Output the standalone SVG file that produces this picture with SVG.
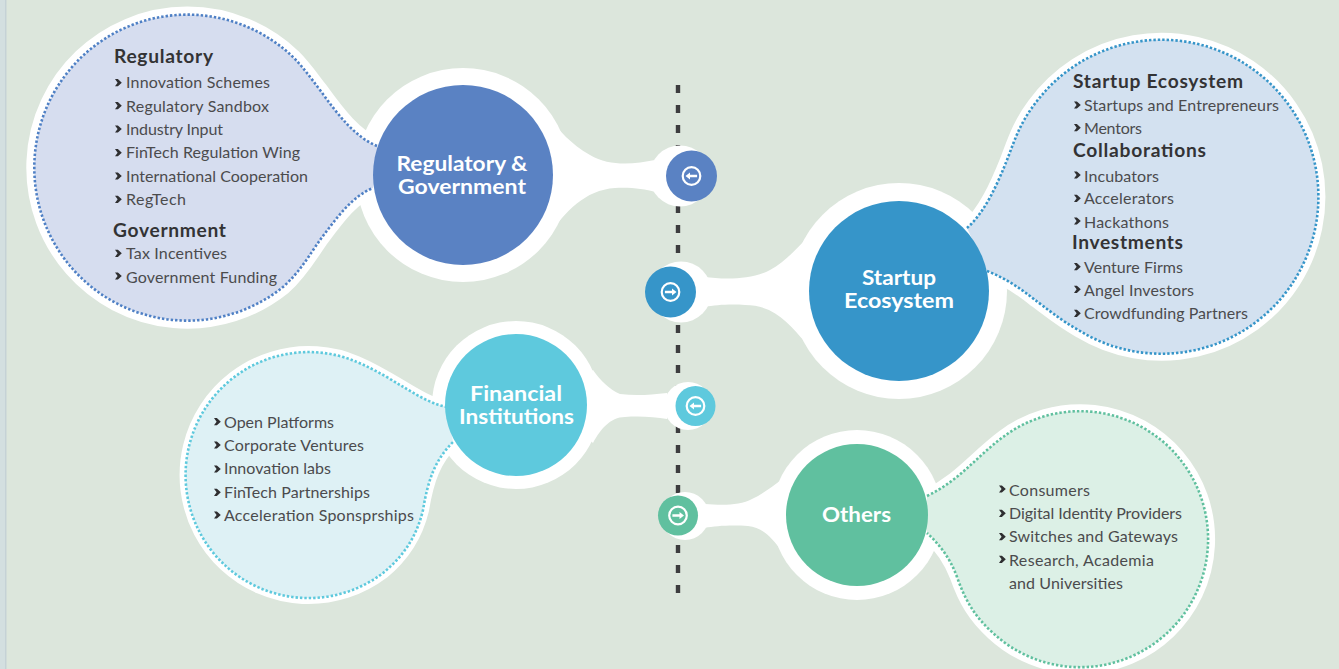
<svg xmlns="http://www.w3.org/2000/svg" xmlns:xlink="http://www.w3.org/1999/xlink" width="1339" height="669" viewBox="0 0 1339 669">
<style>
text{font-family:"Lato","Liberation Sans",sans-serif}
.i{font-size:16px;fill:#4b4b4d}
.h{font-size:19.2px;font-weight:700;fill:#333335}
.n{font-size:21px;font-weight:700;fill:#fff}
.halo{fill:#fff}
.blobw{stroke:#fff;stroke-linejoin:round;paint-order:stroke fill}
.dots{fill:none;stroke-width:2.6;stroke-dasharray:2.4 2}
.ring{fill:none;stroke:#fff;stroke-width:2.2}
.arr{fill:#fff}
.chev{fill:#2f2f31}
</style>
<defs>
<path id="c" class="chev" d="M0,-3.6H2.9L6.8,0L2.9,3.6H0L2.6,0Z"/>
<g id="al"><circle class="ring" r="8.8"/><path class="arr" d="M-6,0L-1.5,-3.4V-1.3H5.6V1.3H-1.5V3.4Z"/></g>
<g id="ar"><circle class="ring" r="8.8"/><path class="arr" d="M6,0L1.5,-3.4V-1.3H-5.6V1.3H1.5V3.4Z"/></g>
</defs>
<rect width="1339" height="669" fill="#dce6dc"/>
<rect width="5" height="669" fill="#d3dfe0"/>
<rect x="5" width="1.5" height="669" fill="#c5d2d6"/>
<g id="connectors">
<line x1="678" y1="85" x2="678" y2="594" stroke="#3c3c3e" stroke-width="4.4" stroke-dasharray="8 12"/>
<g fill="#fff">
<path d="M655,160C635,164 610,167 590,155C570,144 560,130 548,118L500,175L550,234C565,212 585,190 615,188C630,187 645,189 655,192Z"/>
<circle cx="680" cy="176" r="30.500"/>
<path d="M705,277C720,279 750,281 770,270C785,262 795,250 805,240L850,291L805,342C790,325 775,305 745,305C730,304 715,305 705,307Z"/>
<circle cx="681" cy="292" r="30.500"/>
<path d="M667,393C650,395 635,396 620,394C610,390 600,380 593,370L550,405L593,443C600,430 610,417 625,417C640,416 655,417 667,419Z"/>
<circle cx="688" cy="406" r="24"/>
<path d="M705,504C720,505 740,506 752,499C762,494 772,487 781,480L820,515L781,550C772,538 762,527 748,526C730,525 715,526 705,528Z"/>
<circle cx="685" cy="516" r="24"/>
</g>
</g>
<g id="node-regulatory">
<circle class="halo" cx="463" cy="175" r="107"/>
<path class="blobw" stroke-width="16" fill="#d6ddef" d="M377,146C355,137 338,115 320,90C310,77 303,67 293,57A153,153 0 1 0 283,287C300,272 310,254 320,240C335,220 352,196 373,188Z"/>
<path class="dots" stroke="#4f80c5" d="M377,146C355,137 338,115 320,90C310,77 303,67 293,57A153,153 0 1 0 283,287C300,272 310,254 320,240C335,220 352,196 373,188"/>
<circle cx="463" cy="175" r="90" fill="#5a82c3"/>
<text class="n" x="462" y="171" text-anchor="middle" textLength="131" lengthAdjust="spacingAndGlyphs">Regulatory &amp;</text>
<text class="n" x="462" y="194" text-anchor="middle" textLength="128" lengthAdjust="spacingAndGlyphs">Government</text>
<circle cx="691.500" cy="176" r="25.500" fill="#5a82c3"/>
<use href="#al" x="691.500" y="176"/>
<text class="h" x="114" y="63" textLength="99">Regulatory</text>
<use href="#c" x="115" y="82.700"/><text class="i" x="126" y="88" textLength="144">Innovation Schemes</text>
<use href="#c" x="115" y="105.700"/><text class="i" x="126" y="112" textLength="143">Regulatory Sandbox</text>
<use href="#c" x="115" y="129"/><text class="i" x="126" y="135" textLength="97">Industry Input</text>
<use href="#c" x="115" y="152.700"/><text class="i" x="126" y="158" textLength="174">FinTech Regulation Wing</text>
<use href="#c" x="115" y="176"/><text class="i" x="126" y="182" textLength="182">International Cooperation</text>
<use href="#c" x="115" y="199.300"/><text class="i" x="126" y="205" textLength="60">RegTech</text>
<text class="h" x="113" y="237" textLength="113">Government</text>
<use href="#c" x="115" y="253.300"/><text class="i" x="126" y="259" textLength="101">Tax Incentives</text>
<use href="#c" x="115" y="276"/><text class="i" x="126" y="282.500" textLength="151">Government Funding</text>
</g>
<g id="node-startup">
<circle class="halo" cx="899" cy="291" r="108"/>
<path class="blobw" stroke-width="14" fill="#d3e1f0" d="M967,228C985,212 997,185 1007,160C1014,142 1019,125 1034,105A157,157 0 1 1 1080,331C1060,320 1045,307 1035,300C1020,288 1005,278 987,271Z"/>
<path class="dots" stroke="#3695c9" d="M967,228C985,212 997,185 1007,160C1014,142 1019,125 1034,105A157,157 0 1 1 1080,331C1060,320 1045,307 1035,300C1020,288 1005,278 987,271"/>
<circle cx="899" cy="291" r="90" fill="#3695c9"/>
<text class="n" x="899" y="285" text-anchor="middle" textLength="74" lengthAdjust="spacingAndGlyphs">Startup</text>
<text class="n" x="899" y="308" text-anchor="middle" textLength="110" lengthAdjust="spacingAndGlyphs">Ecosystem</text>
<circle cx="670.500" cy="292" r="25.500" fill="#3695c9"/>
<use href="#ar" x="670.500" y="292"/>
<text class="h" x="1073" y="87.500" textLength="170">Startup Ecosystem</text>
<use href="#c" x="1074" y="105"/><text class="i" x="1084" y="111" textLength="195">Startups and Entrepreneurs</text>
<use href="#c" x="1074" y="127.700"/><text class="i" x="1084" y="134" textLength="58">Mentors</text>
<text class="h" x="1073" y="157" textLength="133">Collaborations</text>
<use href="#c" x="1074" y="175"/><text class="i" x="1084" y="181.500" textLength="75">Incubators</text>
<use href="#c" x="1074" y="198.300"/><text class="i" x="1084" y="204" textLength="90">Accelerators</text>
<use href="#c" x="1074" y="221"/><text class="i" x="1084" y="228" textLength="85">Hackathons</text>
<text class="h" x="1072" y="249" textLength="111">Investments</text>
<use href="#c" x="1074" y="266.700"/><text class="i" x="1084" y="273" textLength="99">Venture Firms</text>
<use href="#c" x="1074" y="289.300"/><text class="i" x="1084" y="296" textLength="110">Angel Investors</text>
<use href="#c" x="1074" y="313.300"/><text class="i" x="1084" y="319" textLength="164">Crowdfunding Partners</text>
</g>
<g id="node-financial">
<circle class="halo" cx="516" cy="405" r="84"/>
<path class="blobw" stroke-width="12" fill="#def1f5" d="M447,407C420,402 395,378 357,362A123,123 0 1 0 383,573C405,555 417,535 423,510C428,480 435,460 453,442Z"/>
<path class="dots" stroke="#5ec9dd" d="M447,407C420,402 395,378 357,362A123,123 0 1 0 383,573C405,555 417,535 423,510C428,480 435,460 453,442"/>
<circle cx="516" cy="405" r="71" fill="#5ec9dd"/>
<text class="n" x="516" y="401" text-anchor="middle" textLength="92" lengthAdjust="spacingAndGlyphs">Financial</text>
<text class="n" x="516.500" y="424" text-anchor="middle" textLength="115" lengthAdjust="spacingAndGlyphs">Institutions</text>
<circle cx="695.500" cy="406" r="20" fill="#5ec9dd"/>
<use href="#al" x="695.500" y="406"/>
<use href="#c" x="214" y="421.700"/><text class="i" x="224" y="428" textLength="110">Open Platforms</text>
<use href="#c" x="214" y="445"/><text class="i" x="224" y="451" textLength="140">Corporate Ventures</text>
<use href="#c" x="214" y="469"/><text class="i" x="224" y="474" textLength="107">Innovation labs</text>
<use href="#c" x="214" y="492.300"/><text class="i" x="224" y="498" textLength="146">FinTech Partnerships</text>
<use href="#c" x="214" y="515"/><text class="i" x="224" y="521" textLength="190">Acceleration Sponsprships</text>
</g>
<g id="node-others">
<circle class="halo" cx="857" cy="515" r="85"/>
<path class="blobw" stroke-width="14" fill="#dcf0e6" d="M927,496C960,480 975,458 1003,437A128,128 0 1 1 993,633C975,617 965,600 957,577C950,558 940,545 927,533Z"/>
<path class="dots" stroke="#60c09f" d="M927,496C960,480 975,458 1003,437A128,128 0 1 1 993,633C975,617 965,600 957,577C950,558 940,545 927,533"/>
<circle cx="857" cy="515" r="71" fill="#60c09f"/>
<text class="n" x="856.500" y="522" text-anchor="middle" textLength="69" lengthAdjust="spacingAndGlyphs">Others</text>
<circle cx="678" cy="515.500" r="20" fill="#60c09f"/>
<use href="#ar" x="678" y="515.500"/>
<use href="#c" x="999" y="489"/><text class="i" x="1009" y="496" textLength="81">Consumers</text>
<use href="#c" x="999" y="513.300"/><text class="i" x="1009" y="519" textLength="173">Digital Identity Providers</text>
<use href="#c" x="999" y="536.700"/><text class="i" x="1009" y="542" textLength="169">Switches and Gateways</text>
<use href="#c" x="999" y="559.300"/><text class="i" x="1009" y="566" textLength="145">Research, Academia</text>
<text class="i" x="1009" y="589" textLength="114">and Universities</text>
</g>
</svg>
